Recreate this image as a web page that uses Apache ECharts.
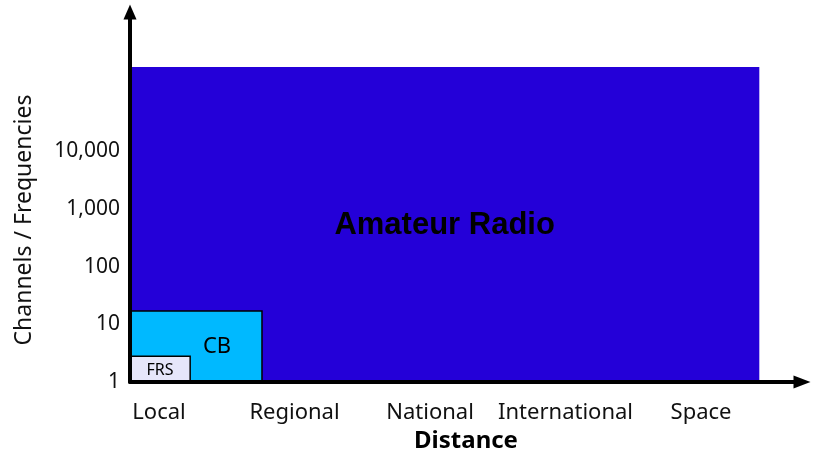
<!DOCTYPE html>
<html>
<head>
<meta charset="utf-8">
<script src="https://cdn.jsdelivr.net/npm/echarts@6/dist/echarts.min.js"></script>
<style>
html,body{margin:0;padding:0;background:#fff;}
#chart{width:814px;height:454px;}
</style>
</head>
<body>
<div id="chart"></div>
<script>
// Distance categories (x axis)
const categories = ['Local', 'Regional', 'National', 'International', 'Space'];
const categoryPositions = [0, 1, 2, 3, 4];
// y-axis tick labels (channels / frequencies, log scale)
const yTickValues = [1, 10, 100, 1000, 10000];
const yTickLabels = ['1', '10', '100', '1,000', '10,000'];
// services: name, distance reach (start, end in category units), channel range (low, high)
const serviceNames = ['Amateur Radio', 'CB', 'FRS'];
const reachStart = [-0.214, -0.214, -0.214];
const reachEnd = [4.43, 0.76, 0.23];
const channelsLow = [1, 1, 1];
const channelsHigh = [290000, 17, 2.8];
const serviceColors = ['#2400D8', '#00B9FF', '#E6E6FA'];

const data = serviceNames.map((n, i) => ({
  name: n,
  value: [reachStart[i], reachEnd[i], channelsLow[i], channelsHigh[i]]
}));

const labelStyles = [
  {fontFamily: 'Liberation Sans', fontWeight: 'bold', fontSize: 31, offset: [0, 1]},
  {fontFamily: 'Noto Sans', fontWeight: 'normal', fontSize: 22, offset: [21, 0]},
  {fontFamily: 'Noto Sans', fontWeight: 'normal', fontSize: 16, offset: [0, 1]}
];
const borders = [0, 1.5, 1.5];

const chart = echarts.init(document.getElementById('chart'));
chart.setOption({
  animation: false,
  backgroundColor: '#fff',
  grid: {left: 130, right: 12, top: 12, bottom: 72, containLabel: false, outerBoundsMode: 'none'},
  xAxis: {
    type: 'value',
    min: -0.214,
    max: 4.745,
    z: 10,
    name: 'Distance',
    nameLocation: 'middle',
    nameGap: 44,
    nameTextStyle: {fontFamily: 'Noto Sans', fontSize: 24, fontWeight: 'bold', color: '#000'},
    axisLine: {show: true, onZero: false, lineStyle: {color: '#000', width: 4}, symbol: ['none', 'triangle'], symbolSize: [13, 17]},
    axisTick: {show: false},
    splitLine: {show: false},
    axisLabel: {
      customValues: categoryPositions,
      formatter: v => categories[Math.round(v)],
      fontFamily: 'Noto Sans', fontSize: 22, color: '#111', margin: 20
    }
  },
  yAxis: {
    type: 'log',
    logBase: 10,
    min: 1,
    max: 2600000,
    z: 10,
    name: 'Channels / Frequencies',
    nameLocation: 'middle',
    nameGap: 94,
    nameTextStyle: {fontFamily: 'Noto Sans', fontSize: 23, color: '#111', padding: [0, 46, 0, 0]},
    axisLine: {show: true, onZero: false, lineStyle: {color: '#000', width: 4}, symbol: ['none', 'triangle'], symbolSize: [13, 15]},
    axisTick: {show: false},
    splitLine: {show: false},
    axisLabel: {
      customValues: yTickValues,
      formatter: v => {
        const i = yTickValues.findIndex(t => Math.abs(t - v) / t < 1e-6);
        return i >= 0 ? yTickLabels[i] : '';
      },
      fontFamily: 'Noto Sans', fontSize: 21, color: '#111', margin: 10
    }
  },
  series: [{
    type: 'custom',
    data: data,
    clip: false,
    renderItem: function (params, api) {
      const i = params.dataIndex;
      const p0 = api.coord([api.value(0), api.value(2)]);
      const p1 = api.coord([api.value(1), api.value(3)]);
      const ls = labelStyles[i];
      return {
        type: 'rect',
        shape: {x: p0[0], y: p1[1], width: p1[0] - p0[0], height: p0[1] - p1[1]},
        style: {fill: serviceColors[i], stroke: borders[i] ? '#000' : null, lineWidth: borders[i]},
        textContent: {
          style: {text: serviceNames[i], fill: '#000', fontFamily: ls.fontFamily, fontWeight: ls.fontWeight, fontSize: ls.fontSize}
        },
        textConfig: {position: 'inside', offset: ls.offset}
      };
    }
  }]
});
</script>
</body>
</html>
